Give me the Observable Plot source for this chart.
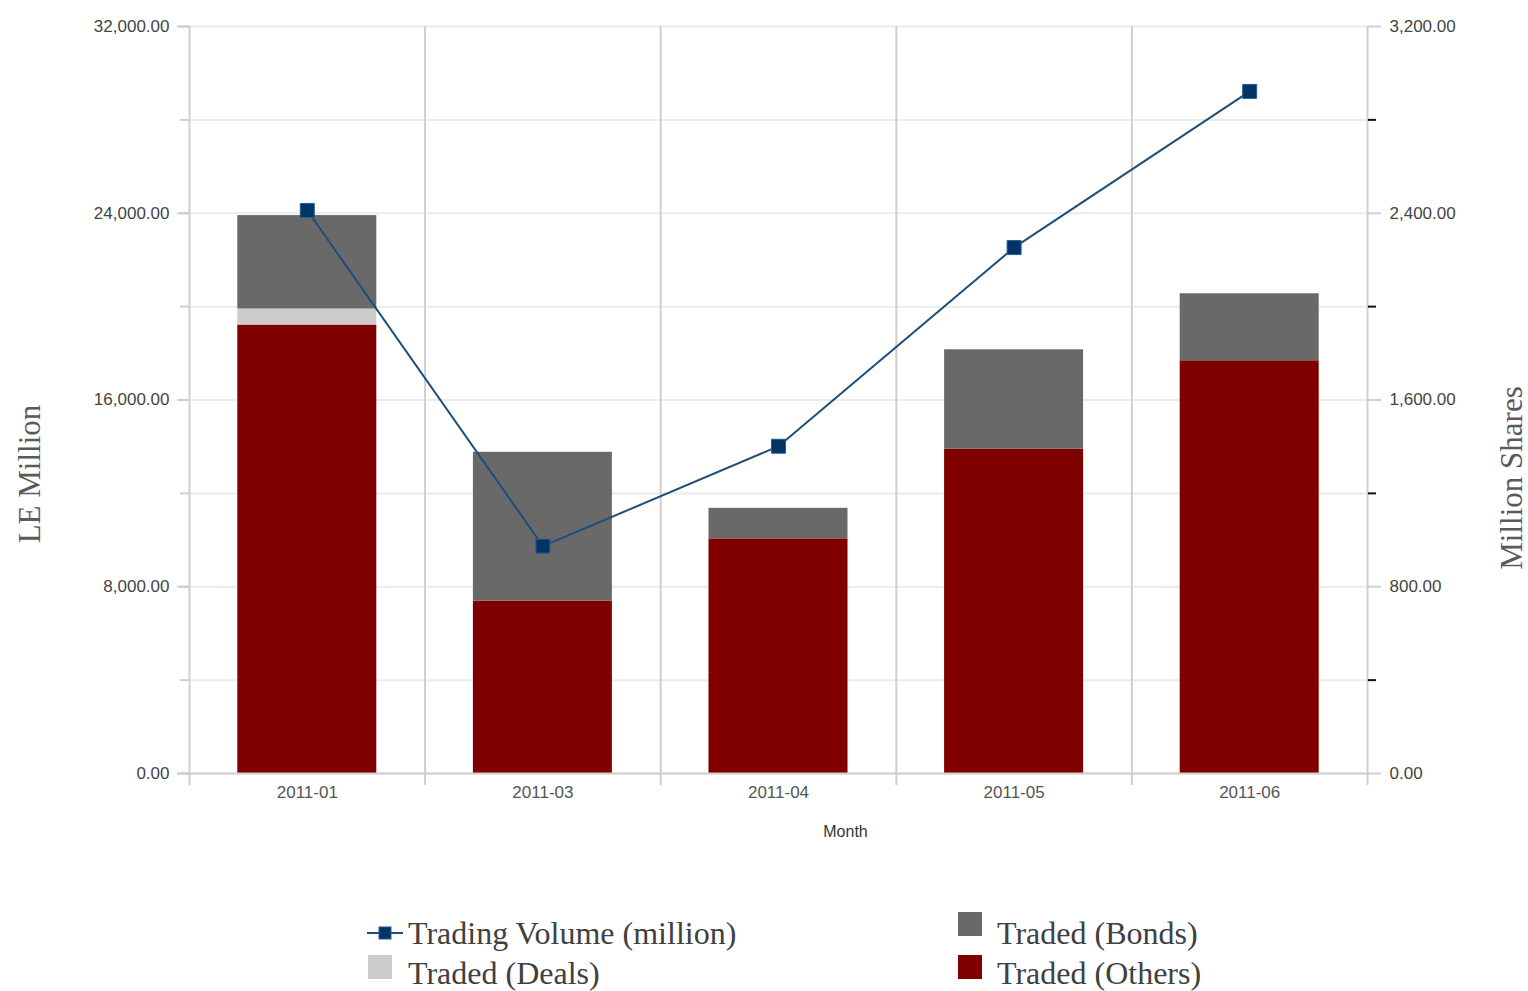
<!DOCTYPE html>
<html>
<head>
<meta charset="utf-8">
<script src="https://cdn.jsdelivr.net/npm/d3@7"></script>
<script src="https://cdn.jsdelivr.net/npm/@observablehq/plot@0.6"></script>
<style>
  html, body { margin: 0; padding: 0; background: #fff; }
  #wrap { position: relative; width: 1528px; height: 991px; overflow: hidden; }
  .lg { position: absolute; font-family: "Liberation Serif", "Times New Roman", serif; font-size: 32px; color: #404040; line-height: 40px; white-space: nowrap; }
  .sw { position: absolute; width: 24px; height: 24px; }
</style>
</head>
<body>
<div id="wrap"></div>
<script>
// ---- data ----
const months = ["2011-01", "2011-03", "2011-04", "2011-05", "2011-06"];
const tradedOthers = [19210, 7380, 10050, 13890, 17680];
const tradedDeals = [690, 0, 0, 0, 0];
const tradedBonds = [4000, 6380, 1310, 4260, 2870];
const tradingVolume = [2412, 974, 1402, 2253, 2922];
const leftTicks = [0, 8000, 16000, 24000, 32000];
const leftMinorTicks = [0, 4000, 8000, 12000, 16000, 20000, 24000, 28000, 32000];
const rightTicks = [0, 800, 1600, 2400, 3200];
const rightMinorTicks = [400, 1200, 2000, 2800];
const seriesNames = ["Traded (Others)", "Traded (Deals)", "Traded (Bonds)"];
const seriesColors = ["#800000", "#cccccc", "#696969"];
const lineName = "Trading Volume (million)";

// secondary axis ratio (right max / left max)
const ratio = 32000 / 3200;

const rows = [];
months.forEach((m, i) => {
  rows.push({month: m, series: "Traded (Others)", value: tradedOthers[i]});
  rows.push({month: m, series: "Traded (Deals)", value: tradedDeals[i]});
  rows.push({month: m, series: "Traded (Bonds)", value: tradedBonds[i]});
});
const vol = months.map((m, i) => ({month: m, v: tradingVolume[i] * ratio}));

const W = 1528, ML = 189, MR = 161;
const step = (W - ML - MR) / months.length;
const fmt = d3.format(",.2f");
const serif = "'Liberation Serif', 'Times New Roman', serif";

const chart = Plot.plot({
  width: W,
  height: 860,
  marginLeft: ML,
  marginRight: MR,
  marginTop: 26,
  marginBottom: 87,
  style: {fontFamily: "'Liberation Sans', Arial, sans-serif", fontSize: "17px", color: "#444", background: "#fff"},
  x: {domain: months, paddingInner: 0.41, paddingOuter: 0.205, align: 0.5, round: false},
  y: {domain: [0, 32000]},
  color: {domain: seriesNames, range: seriesColors},
  marks: [
    Plot.gridY(leftMinorTicks, {stroke: "#ebebeb", strokeOpacity: 1, strokeWidth: 2}),
    Plot.ruleX(months, {x: d => d, dx: -step / 2, stroke: "#cfcfcf", strokeWidth: 2, insetBottom: -12}),
    Plot.ruleX([months[months.length - 1]], {x: d => d, dx: step / 2, stroke: "#cfcfcf", strokeWidth: 2, insetBottom: -12}),
    Plot.axisY(leftMinorTicks, {anchor: "left", tickSize: 9, stroke: "#cfcfcf", strokeWidth: 2, tickFormat: () => "", label: null}),
    Plot.axisY(leftTicks, {anchor: "left", tickSize: 12, tickPadding: 8, stroke: "#cfcfcf", strokeWidth: 2, fill: "#444", tickFormat: fmt, label: null}),
    Plot.axisY(rightMinorTicks.map(d => d * ratio), {anchor: "right", tickSize: 8, stroke: "#111", strokeWidth: 2, tickFormat: () => "", label: null}),
    Plot.axisY(rightTicks.map(d => d * ratio), {anchor: "right", tickSize: 13, tickPadding: 9, stroke: "#cfcfcf", strokeWidth: 2, fill: "#444", tickFormat: d => fmt(d / ratio), label: null}),
    Plot.axisX(months, {tickSize: 0, tickPadding: 12, fill: "#555", label: null}),
    Plot.barY(rows, {x: "month", y: "value", fill: "series", order: seriesNames}),
    Plot.ruleY([0], {stroke: "#cfcfcf", strokeWidth: 2, insetLeft: -12}),
    Plot.line(vol, {x: "month", y: "v", stroke: "#1f4e79", strokeWidth: 2}),
    Plot.dot(vol, {x: "month", y: "v", symbol: "square", r: 7.9, fill: "#003366", stroke: "#2b5d8f", strokeWidth: 1}),
    Plot.text(["Month"], {frameAnchor: "bottom", dx: 67, dy: 58, fontSize: 16, fill: "#333", lineAnchor: "middle"}),
    Plot.text(["LE Million"], {frameAnchor: "left", textAnchor: "middle", dx: -159, dy: 74, rotate: -90, fontSize: 31, fontFamily: serif, fill: "#5a5a5a", lineAnchor: "middle"}),
    Plot.text(["Million Shares"], {frameAnchor: "right", textAnchor: "middle", dx: 145, dy: 78, rotate: -90, fontSize: 31, fontFamily: serif, fill: "#5a5a5a", lineAnchor: "middle"})
  ]
});

const wrap = document.getElementById("wrap");
wrap.appendChild(chart);

// ---- legend (HTML, below the SVG) ----
function addText(txt, left, centerY) {
  const d = document.createElement("div");
  d.className = "lg";
  d.textContent = txt;
  d.style.left = left + "px";
  d.style.top = (centerY - 20) + "px";
  wrap.appendChild(d);
}
function addSwatch(color, left, top) {
  const s = document.createElement("div");
  s.className = "sw";
  s.style.left = left + "px";
  s.style.top = top + "px";
  s.style.background = color;
  wrap.appendChild(s);
}
// line legend marker
const lm = document.createElementNS("http://www.w3.org/2000/svg", "svg");
lm.setAttribute("width", 36); lm.setAttribute("height", 20);
lm.style.position = "absolute"; lm.style.left = "367px"; lm.style.top = "923px";
lm.innerHTML = '<line x1="0" y1="10" x2="36" y2="10" stroke="#1f4e79" stroke-width="2"/><rect x="12" y="4" width="12" height="12" fill="#003366" stroke="#2b5d8f" stroke-width="1"/>';
wrap.appendChild(lm);
addText(lineName, 408, 933);
addSwatch(seriesColors[1], 368, 955);
addText(seriesNames[1], 408, 973);
addSwatch(seriesColors[2], 958, 912);
addText(seriesNames[2], 997, 933);
addSwatch(seriesColors[0], 958, 955);
addText(seriesNames[0], 997, 973);
</script>
</body>
</html>
